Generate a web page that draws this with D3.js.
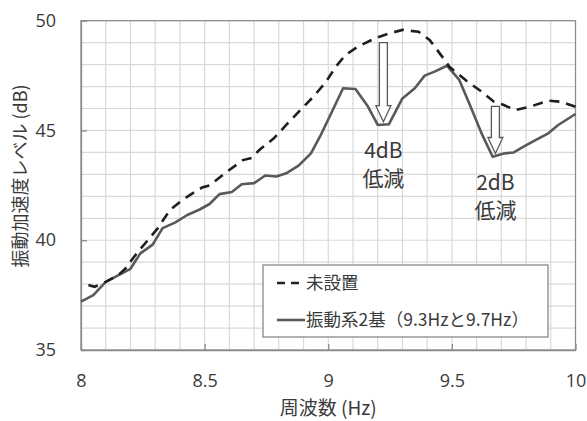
<!DOCTYPE html>
<html>
<head>
<meta charset="utf-8">
<script src="https://cdn.jsdelivr.net/npm/d3@7"></script>
<style>
  body { margin: 0; background: #fff; }
  text { font-family: "Noto Sans CJK JP", "Noto Sans", sans-serif; fill: #3a3a3a; }
</style>
</head>
<body>
<svg id="chart" width="587" height="421"></svg>
<script>
// measured levels without damper (dashed)
var freqNone = [8.03, 8.055, 8.10, 8.15, 8.18, 8.225, 8.27, 8.31, 8.36, 8.41, 8.46, 8.49, 8.52, 8.59,
    8.655, 8.69, 8.72, 8.78, 8.83, 8.885, 8.94, 8.99, 9.03, 9.07, 9.12, 9.19, 9.25, 9.30, 9.365,
    9.41, 9.465, 9.49, 9.56, 9.62, 9.67, 9.71, 9.755, 9.815, 9.89, 9.94, 10.0];
var levelNone = [37.96, 37.88, 38.1, 38.4, 38.72, 39.4, 40.0, 40.54, 41.38, 41.83, 42.2, 42.4, 42.5, 43.12,
    43.65, 43.75, 44.1, 44.64, 45.25, 45.9, 46.54, 47.2, 47.9, 48.44, 48.82, 49.2, 49.43, 49.58, 49.5,
    49.12, 48.3, 47.9, 47.25, 46.77, 46.31, 46.16, 45.93, 46.08, 46.36, 46.31, 46.08];

// with two dampers (solid)
var freqTwo = [8.00, 8.05, 8.10, 8.15, 8.20, 8.24, 8.29, 8.33, 8.38, 8.43, 8.48, 8.52, 8.56, 8.61,
    8.65, 8.70, 8.745, 8.79, 8.83, 8.88, 8.93, 8.97, 9.00, 9.06, 9.11, 9.16, 9.20, 9.245, 9.30,
    9.35, 9.39, 9.43, 9.48, 9.53, 9.57, 9.62, 9.665, 9.71, 9.75, 9.79, 9.84, 9.89, 9.93, 10.0];
var levelTwo = [37.2, 37.5, 38.1, 38.4, 38.7, 39.4, 39.8, 40.55, 40.8, 41.15, 41.4, 41.65, 42.1, 42.2,
    42.55, 42.6, 42.95, 42.9, 43.05, 43.4, 43.96, 44.8, 45.5, 46.92, 46.89, 46.1, 45.25, 45.28, 46.46,
    46.92, 47.5, 47.68, 47.95, 47.3, 46.24, 44.87, 43.8, 43.95, 44.0, 44.26, 44.57, 44.87, 45.25, 45.75];

var xTicks = [8, 8.5, 9, 9.5, 10];
var yTicks = [35, 40, 45, 50];

// reduction arrows: frequency, top level, tip level, label
var arrows = [
    {f: 9.223, top: 49.0, tip: 45.4, label: ["4dB", "低減"]},
    {f: 9.676, top: 46.1, tip: 43.95, label: ["2dB", "低減"]}
];

var legendNames = ["未設置", "振動系2基（9.3Hzと9.7Hz）"];

var svg = d3.select("#chart");
var margin = {left: 81, top: 20.7, right: 11.5, bottom: 71};
var width = 587 - margin.left - margin.right;
var height = 421 - margin.top - margin.bottom;

var g = svg.append("g").attr("transform", "translate(" + margin.left + "," + margin.top + ")");

var x = d3.scaleLinear().domain([8, 10]).range([0, width]);
var y = d3.scaleLinear().domain([35, 50]).range([height, 0]);

// grid every 0.1 Hz and 1 dB
g.append("g").selectAll("line").data(d3.range(1, 20).map(function(i){ return 8 + i / 10; }))
    .enter().append("line")
    .attr("x1", function(d){ return x(d); }).attr("x2", function(d){ return x(d); })
    .attr("y1", 0).attr("y2", height)
    .attr("stroke", "#d9d9d9").attr("stroke-width", 1.2);
g.append("g").selectAll("line").data(d3.range(36, 50))
    .enter().append("line")
    .attr("y1", function(d){ return y(d); }).attr("y2", function(d){ return y(d); })
    .attr("x1", 0).attr("x2", width)
    .attr("stroke", "#d9d9d9").attr("stroke-width", 1.2);

// frame
g.append("rect").attr("width", width).attr("height", height)
    .attr("fill", "none").attr("stroke", "#8c8c8c").attr("stroke-width", 1.3);

// axes with inside ticks
var xAxis = g.append("g").attr("transform", "translate(0," + height + ")")
    .call(d3.axisBottom(x).tickValues(xTicks).tickSizeInner(-6).tickSizeOuter(0).tickPadding(24)
        .tickFormat(function(d){ return d; }));
var yAxis = g.append("g")
    .call(d3.axisLeft(y).tickValues(yTicks).tickSizeInner(-6).tickSizeOuter(0).tickPadding(25));
[xAxis, yAxis].forEach(function(a){
    a.select(".domain").attr("stroke", "#8c8c8c").attr("stroke-width", 1.3);
    a.selectAll(".tick line").attr("stroke", "#8c8c8c").attr("stroke-width", 1.3);
    a.selectAll(".tick text").attr("font-size", 18).attr("fill", "#3a3a3a")
        .style("font-family", "'Open Sans', 'Noto Sans', sans-serif");
});

// curves
var line = d3.line().x(function(d){ return x(d[0]); }).y(function(d){ return y(d[1]); });
var ptsTwo = freqTwo.map(function(f, i){ return [f, levelTwo[i]]; });
var ptsNone = freqNone.map(function(f, i){ return [f, levelNone[i]]; });

g.append("path").datum(ptsTwo).attr("d", line)
    .attr("fill", "none").attr("stroke", "#595959").attr("stroke-width", 2.6)
    .attr("stroke-linejoin", "round");
g.append("path").datum(ptsNone).attr("d", line)
    .attr("fill", "none").attr("stroke", "#1f1f1f").attr("stroke-width", 2.6)
    .attr("stroke-dasharray", "10,7");

// hollow down arrows + labels
arrows.forEach(function(a){
    var cx = x(a.f), yt = y(a.top), yb = y(a.tip);
    var sw = 4, hw = 7.5, hl = 16;
    var pts = [[cx - sw, yt], [cx + sw, yt], [cx + sw, yb - hl], [cx + hw, yb - hl], [cx, yb],
        [cx - hw, yb - hl], [cx - sw, yb - hl]];
    g.append("path").attr("d", "M" + pts.join("L") + "Z")
        .attr("fill", "#fff").attr("stroke", "#595959").attr("stroke-width", 1.3);
    g.append("text").attr("x", cx).attr("y", yb + 36).attr("text-anchor", "middle")
        .attr("font-size", 21).text(a.label[0]);
    g.append("text").attr("x", cx).attr("y", yb + 64).attr("text-anchor", "middle")
        .attr("font-size", 21).text(a.label[1]);
});

// legend
var lg = svg.append("g").attr("transform", "translate(263,265)");
lg.append("rect").attr("width", 285).attr("height", 72)
    .attr("fill", "#fff").attr("stroke", "#7f7f7f").attr("stroke-width", 1.2);
lg.append("line").attr("x1", 14).attr("x2", 42).attr("y1", 18).attr("y2", 18)
    .attr("stroke", "#1f1f1f").attr("stroke-width", 2.6).attr("stroke-dasharray", "8,6");
lg.append("line").attr("x1", 14).attr("x2", 42).attr("y1", 55).attr("y2", 55)
    .attr("stroke", "#595959").attr("stroke-width", 2.6);
lg.selectAll("text.name").data(legendNames).enter().append("text").attr("class", "name")
    .attr("x", 43).attr("y", function(d, i){ return i === 0 ? 24 : 61; })
    .attr("font-size", 17.5).text(function(d){ return d; });

// axis titles
svg.append("text").attr("x", margin.left + width / 2).attr("y", 415)
    .attr("text-anchor", "middle").attr("font-size", 19).text("周波数 (Hz)");
svg.append("text").attr("transform", "translate(27,176) rotate(-90)")
    .attr("text-anchor", "middle").attr("font-size", 18).text("振動加速度レベル (dB)");
</script>
</body>
</html>
